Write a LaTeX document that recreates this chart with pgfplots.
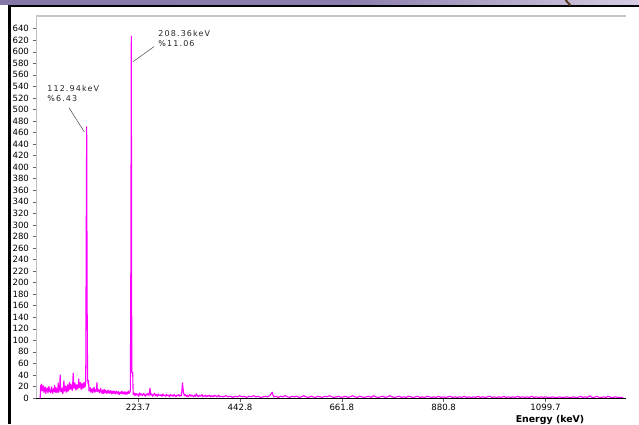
\documentclass[border=0pt]{standalone}
\usepackage{pgfplots}
\pgfplotsset{compat=1.18}
\usepackage{fontspec}
\setmainfont{DejaVu Sans}
\newfontfamily\annfont[LetterSpace=14]{DejaVu Sans}
\definecolor{spec}{RGB}{255,0,255}
\definecolor{bandL}{RGB}{133,119,167}
\definecolor{bandM}{RGB}{140,126,172}
\definecolor{bandR}{RGB}{214,205,228}
\begin{document}
\begin{tikzpicture}[x=1pt,y=1pt]
\useasboundingbox (0,0) rectangle (639,424);
\fill[white] (0,0) rectangle (639,424);
% slide decorations
\shade[left color=bandL, right color=bandM] (0,419) rectangle (350,424);
\shade[left color=bandM, right color=bandR] (350,419) rectangle (639,424);
\fill[black] (8,417) rectangle (639,419.3);
\fill[black] (8,0) rectangle (10.5,419);
\draw[line width=2pt, color=brown!45!black] (565.5,424) -- (570.5,418.5);
\begin{axis}[
  at={(36pt,26pt)}, anchor=south west,
  scale only axis, width=590pt, height=382pt,
  xmin=4, xmax=1273, ymin=0, ymax=662,
  axis x line*=bottom, axis y line*=left,
  x axis line style={black, line width=0.9pt},
  y axis line style={black!25, line width=0.8pt},
  ytick={0,20,...,640},
  xtick={223.7,442.8,661.8,880.8,1099.7},
  xticklabels={223.7,442.8,661.8,880.8,1099.7},
  tick align=outside,
  major tick length=3.5pt,
  tick style={black!60, line width=0.5pt},
  /pgf/number format/assume math mode=true,
  tick label style={font=\fontsize{8.6}{9}\selectfont, text=black},
  xticklabel style={yshift=1pt},
  clip=true,
]
\draw[black!22, line width=1.4pt] (rel axis cs:0,1) -- (rel axis cs:1,1);
\addplot[spec, line width=1.1pt, line join=round, line cap=round, sharp plot, mark=none] coordinates {
(13,0)(14,22)(15,18)(16,24)(17,12)(18,15)(19,21)(20,21)(21,10)(22,11)(23,17)(24,19)(25,8)(26,13)(27,16)(28,17)(29,11)(30,9)(31,18)(32,20)(33,12)(34,14)(35,9)(36,12)(37,19)(38,18)(39,10)(40,8)(41,14)(42,16)(43,11)(44,22)(45,13)(46,10)(47,18)(48,15)(49,9)(50,12)(51,17)(52,26)(53,10)(54,14)(55,19)(56,40)(57,13)(58,11)(59,16)(60,17)(61,8)(62,9)(63,18)(64,30)(65,12)(66,13)(67,21)(68,19)(69,10)(70,11)(71,20)(72,23)(73,12)(74,14)(75,22)(76,27)(77,15)(78,17)(79,24)(80,21)(81,16)(82,13)(83,25)(84,43)(85,17)(86,18)(87,26)(88,25)(89,15)(90,14)(91,23)(92,22)(93,16)(94,17)(95,24)(96,33)(97,18)(98,19)(99,27)(100,24)(101,15)(102,16)(103,25)(104,23)(105,17)(106,18)(107,27)(108,26)(109,19)(110,21)(111,29)
(112,282)(113,470)(114,160)(115,33)(116,25)(117,30)(118,12)(119,14)(120,17)(121,18)(122,10)(123,11)(124,15)(125,16)(126,9)(127,13)(128,16)(129,19)(130,11)(131,10)(132,14)(133,15)(134,12)(135,27)(136,11)(137,12)(138,15)(139,14)(140,10)(141,9)(142,13)(143,17)(144,12)(145,11)(146,8)(147,13)(148,14)(149,8)(150,10)(151,15)(152,9)(153,10)(154,13)(155,12)(156,8)(157,9)(158,11)(159,14)(160,10)(161,8)(162,12)(163,11)(164,9)(165,13)(166,8)(167,7)(168,11)(169,12)(170,8)(171,9)(172,12)(173,10)(174,8)(175,7)(176,11)(177,12)(178,9)(179,8)(180,10)(181,11)(182,7)(183,6)(184,9)(185,10)(186,8)(187,8)(188,11)(189,12)(190,8)(191,7)(192,10)(193,9)(194,7)(195,11)(196,9)(197,6)(198,8)(199,10)(200,7)(201,8)(202,11)(203,12)(204,8)(205,9)(206,10)(207,14)
(208,237)(209,627)(210,44)(212,44)(213,6)(215,9)(217,4)(219,8)(221,5)(223,7)(225,3)(227,9)(229,5)(231,7)(233,4)(235,8)(237,6)(239,3)(241,7)(243,5)(245,8)(247,4)(249,17)(251,5)(253,7)(255,3)(257,6)(259,8)(261,4)(263,6)(265,3)(267,7)(269,5)(271,4)(273,6)(275,3)(277,7)(279,4)(281,5)(283,3)(285,6)(287,4)(289,5)(291,2)(293,6)(295,4)(297,5)(299,3)(301,6)(303,4)(305,2)(307,5)(309,4)(311,6)(313,3)(315,5)(317,4)(319,26)(321,11)(323,4)(325,6)(327,3)(329,5)(331,2)(333,4)(335,6)(337,3)(339,5)(341,4)(343,2)(345,5)(347,3)(349,7)(351,4)(353,2)(355,5)(357,3)(359,4)(361,6)(363,2)(365,4)(367,3)(369,5)(371,2)(373,4)(375,3)(377,5)(379,2)(381,4)(383,3)(385,2)(387,5)(389,3)(391,4)(393,2)(395,3)(397,5)(399,2)
(402,3)(407,2)(412,4)(417,2)(422,3)(427,1)(432,3)(437,2)(442,4)(447,2)(452,3)(457,1)(462,3)(467,2)(472,4)(477,2)(482,3)(487,1)(492,2)(497,3)(502,2)(507,4)(512,10)(515,2)(520,3)(525,1)(530,3)(535,2)(540,4)(545,2)(550,1)(555,3)(560,2)(565,3)(570,1)(575,2)(580,4)(585,2)(590,1)(595,3)(600,2)(605,1)(610,3)(615,2)(620,1)(625,3)(630,2)(635,4)(640,2)(645,1)(650,2)(655,3)(660,1)(665,2)(670,3)(675,1)(680,2)(685,4)(690,2)(695,1)(700,3)(705,2)(710,1)(715,2)(720,3)(725,1)(730,4)(735,2)(740,1)(745,2)(750,3)(755,1)(760,2)(765,4)(770,2)(775,1)(780,2)(785,3)(790,1)(795,2)(800,1)(805,3)(810,2)(815,1)(820,2)(825,3)(830,1)(835,2)(840,1)(845,3)(850,2)(855,1)(860,2)(865,1)(870,3)(875,1)(880,2)(885,1)(890,2)(895,3)(900,1)(905,2)(910,1)(915,2)(920,1)(925,3)(930,1)(935,2)(940,1)(945,2)(950,1)(955,3)(960,1)(965,2)(970,1)(975,2)(980,3)(985,1)(990,2)(995,1)(1000,2)(1005,1)(1010,3)(1015,1)(1020,2)(1025,1)(1030,2)(1035,1)(1040,3)(1045,1)(1050,2)(1055,1)(1060,2)(1065,1)(1070,3)(1075,1)(1080,2)(1085,1)(1090,2)(1095,1)(1100,2)(1105,1)(1110,1)(1115,2)(1120,1)(1125,1)(1130,2)(1135,1)(1140,1)(1145,2)(1150,1)(1155,1)(1160,2)(1165,1)(1170,1)(1175,3)(1180,1)(1185,2)(1190,1)(1195,4)(1200,1)(1205,1)(1210,3)(1215,1)(1220,1)(1225,2)(1230,1)(1235,3)(1240,1)(1245,1)(1250,2)(1255,1)(1260,1)(1266,1)
};
% annotations
\draw[black!70, line width=0.5pt] (axis cs:213,583) -- (axis cs:258,609);
\draw[black!70, line width=0.5pt] (axis cs:75,503) -- (axis cs:108,461);
\node[anchor=base west, inner sep=0pt, font=\annfont\fontsize{8}{9}\selectfont, text=black!85] at (axis cs:267,626) {208.36keV};
\node[anchor=base west, inner sep=0pt, font=\annfont\fontsize{8}{9}\selectfont, text=black!85] at (axis cs:267,609) {\%11.06};
\node[anchor=base west, inner sep=0pt, font=\annfont\fontsize{8}{9}\selectfont, text=black!85] at (axis cs:28,531) {112.94keV};
\node[anchor=base west, inner sep=0pt, font=\annfont\fontsize{8}{9}\selectfont, text=black!85] at (axis cs:28,513) {\%6.43};
\end{axis}
\node[anchor=base, inner sep=0pt, font=\bfseries\fontsize{9.4}{10}\selectfont] at (550,1.5) {Energy (keV)};
\end{tikzpicture}
\end{document}
